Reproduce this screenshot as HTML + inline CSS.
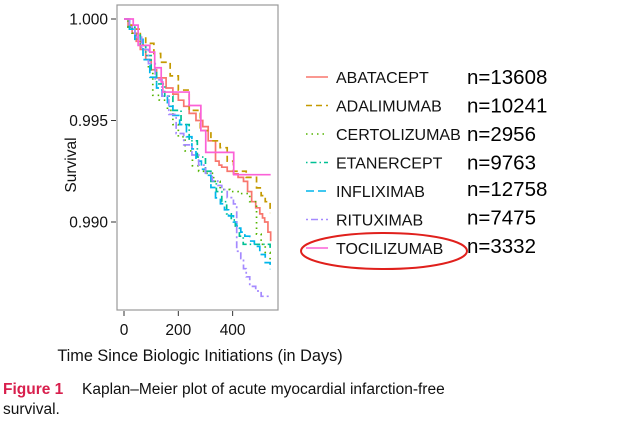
<!DOCTYPE html>
<html><head><meta charset="utf-8"><style>
body{margin:0;background:#fff;width:640px;height:421px;overflow:hidden}
svg{display:block}
</style></head><body>
<svg id="chart" width="640" height="421" xmlns="http://www.w3.org/2000/svg" font-family="Liberation Sans, sans-serif">
<rect x="117" y="5" width="161" height="305" fill="#fff" stroke="#999" stroke-width="1.2"/>
<g id="series"></g>
<g id="axes"></g>
<text transform="translate(76,165) rotate(-90)" text-anchor="middle" font-size="15.5" fill="#111">Survival</text>
<text x="200" y="361" text-anchor="middle" font-size="16.3" fill="#111">Time Since Biologic Initiations (in Days)</text>
<g id="legend"></g>
<ellipse cx="384" cy="251" rx="83" ry="18" fill="none" stroke="#e0201c" stroke-width="2"/>
<text x="3" y="394" font-size="15.5" font-weight="bold" fill="#d81f4d">Figure 1</text>
<text x="82" y="394" font-size="15.5" fill="#111">Kaplan–Meier plot of acute myocardial infarction-free</text>
<text x="3" y="414" font-size="15.5" fill="#111">survival.</text>
</svg>
<script>
const seriesNames=["ABATACEPT","ADALIMUMAB","CERTOLIZUMAB","ETANERCEPT","INFLIXIMAB","RITUXIMAB","TOCILIZUMAB"];
const sampleSizes=["n=13608","n=10241","n=2956","n=9763","n=12758","n=7475","n=3332"];
const xTicks=[0,200,400];
const yTicks=[1.000,0.995,0.990];
const abataceptDays=[0,15,30,45,60,80,100,120,155,180,200,220,240,265,290,310,337,350,360,380,403,420,440,455,470,485,500,510,518,530,540];
const abataceptSurv=[1,0.9996,0.9993,0.9989,0.9985,0.9980,0.9975,0.9971,0.9966,0.9963,0.9960,0.9957,0.99535,0.9950,0.9947,0.9940,0.9930,0.9928,0.9927,0.9925,0.99237,0.9922,0.9920,0.9915,0.9910,0.9907,0.9904,0.9902,0.9900,0.9895,0.98906];
const adalimumabDays=[0,20,40,60,80,110,135,170,200,240,281,320,354,380,403,450,488,505,520,538];
const adalimumabSurv=[1,0.9997,0.9995,0.9991,0.9988,0.9983,0.99787,0.9972,0.9965,0.9955,0.9945,0.9940,0.99366,0.9930,0.9925,0.9922,0.99168,0.9913,0.9910,0.99044];
const certolizumabDays=[0,15,30,50,70,90,106,130,160,180,200,225,252,275,300,330,354,390,420,463,488,505,520,538];
const certolizumabSurv=[1,0.9996,0.9993,0.9989,0.9985,0.9975,0.99624,0.9960,0.9955,0.9948,0.9942,0.9935,0.99277,0.9925,0.9924,0.9920,0.9916,0.9915,0.9914,0.9910,0.9894,0.9889,0.9885,0.98792];
const etanerceptDays=[0,20,40,60,80,100,120,150,180,210,240,270,300,320,340,360,378,395,410,425,439,500,538];
const etanerceptSurv=[1,0.9996,0.9992,0.9987,0.9982,0.9975,0.9968,0.9962,0.9955,0.9948,0.9940,0.9932,0.9925,0.9920,0.9915,0.9910,0.9904,0.9901,0.9898,0.9893,0.9889,0.9889,0.9887];
const infliximabDays=[0,20,40,70,95,120,140,160,180,205,230,250,265,285,300,320,337,355,370,385,403,415,430,445,463,480,500,520,538];
const infliximabSurv=[1,0.9995,0.9990,0.9980,0.99713,0.9966,0.9962,0.9957,0.99525,0.9948,0.9942,0.9936,0.9930,0.9926,0.9923,0.9917,0.99119,0.9909,0.9906,0.9903,0.9900,0.9897,0.9895,0.9893,0.98906,0.9888,0.9884,0.9880,0.98767];
const rituximabDays=[0,20,40,65,90,115,140,165,192,220,250,275,300,325,345,360,380,403,415,430,440,450,463,485,505,540];
const rituximabSurv=[1,0.9996,0.9991,0.9985,0.9978,0.9970,0.9962,0.9953,0.99436,0.9938,0.9933,0.9928,0.9924,0.99203,0.9918,0.9916,0.9912,0.99089,0.98856,0.9882,0.9877,0.9873,0.98683,0.98660,0.98634,0.98634];
const tocilizumabDays=[0,34,52,95,113,137,143,240,283,301,404,540];
const tocilizumabSurv=[1,0.9997,0.9987,0.99837,0.9976,0.9969,0.9964,0.99574,0.9945,0.99343,0.99233,0.99233];
const colors=["#f8766d","#c49a00","#53b400","#00c094","#00b6eb","#a58aff","#fb61d7"];
const dashes=["","6,4","1.5,4","1.5,3,6,3","8,4","2,3,7,3",""];
const allDays=[abataceptDays,adalimumabDays,certolizumabDays,etanerceptDays,infliximabDays,rituximabDays,tocilizumabDays];
const allSurv=[abataceptSurv,adalimumabSurv,certolizumabSurv,etanerceptSurv,infliximabSurv,rituximabSurv,tocilizumabSurv];
const NS="http://www.w3.org/2000/svg";
function xs(d){return 124+d*0.2716;}
function ys(v){return 19+(1-v)/0.005*101.5;}
const sg=document.getElementById('series');
allDays.forEach((days,i)=>{
  const s=allSurv[i];
  let d="M"+xs(days[0])+","+ys(s[0]);
  for(let k=1;k<days.length;k++){d+=" H"+xs(days[k])+" V"+ys(s[k]);}
  const p=document.createElementNS(NS,'path');
  p.setAttribute('d',d);p.setAttribute('fill','none');p.setAttribute('stroke',colors[i]);
  p.setAttribute('stroke-width','1.7');
  if(dashes[i])p.setAttribute('stroke-dasharray',dashes[i]);
  
  
  sg.appendChild(p);
});
const ax=document.getElementById('axes');
xTicks.forEach(t=>{
  const l=document.createElementNS(NS,'line');
  l.setAttribute('x1',xs(t));l.setAttribute('x2',xs(t));l.setAttribute('y1',311);l.setAttribute('y2',316);l.setAttribute('stroke','#333');
  
  
  ax.appendChild(l);
  const tx=document.createElementNS(NS,'text');
  tx.setAttribute('x',xs(t));tx.setAttribute('y',335);tx.setAttribute('text-anchor','middle');tx.setAttribute('font-size','15.5');tx.setAttribute('fill','#111');
  tx.textContent=t;
  
  
  ax.appendChild(tx);
});
yTicks.forEach(t=>{
  const l=document.createElementNS(NS,'line');
  l.setAttribute('x1',111);l.setAttribute('x2',116);l.setAttribute('y1',ys(t));l.setAttribute('y2',ys(t));l.setAttribute('stroke','#333');
  
  
  ax.appendChild(l);
  const tx=document.createElementNS(NS,'text');
  tx.setAttribute('x',108);tx.setAttribute('y',ys(t)+5.5);tx.setAttribute('text-anchor','end');tx.setAttribute('font-size','15.5');tx.setAttribute('fill','#111');
  tx.textContent=t.toFixed(3);
  
  
  ax.appendChild(tx);
});
const lg=document.getElementById('legend');
seriesNames.forEach((n,i)=>{
  const y=77+i*28.5;
  const l=document.createElementNS(NS,'line');
  l.setAttribute('x1',306);l.setAttribute('x2',328);l.setAttribute('y1',y);l.setAttribute('y2',y);
  l.setAttribute('stroke',colors[i]);l.setAttribute('stroke-width','1.6');
  if(dashes[i])l.setAttribute('stroke-dasharray',dashes[i]);
  
  
  lg.appendChild(l);
  const tx=document.createElementNS(NS,'text');
  tx.setAttribute('x',336);tx.setAttribute('y',y+6);tx.setAttribute('font-size','16');tx.setAttribute('fill','#111');
  tx.textContent=n;
  
  
  lg.appendChild(tx);
  const nt=document.createElementNS(NS,'text');
  nt.setAttribute('x',467);nt.setAttribute('y',y+7-(i>=4?2:0));nt.setAttribute('font-size','20.5');nt.setAttribute('fill','#000');
  nt.textContent=sampleSizes[i];
  
  
  lg.appendChild(nt);
});
</script>
</body></html>
